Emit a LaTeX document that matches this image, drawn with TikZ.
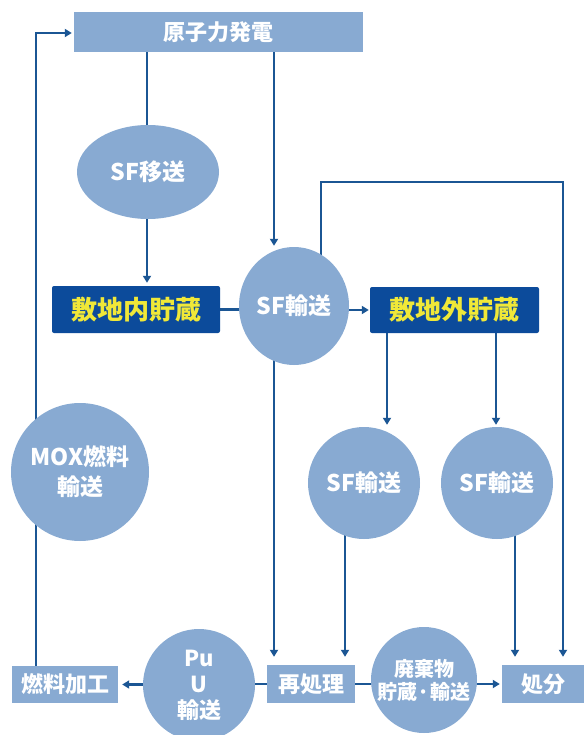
\documentclass[tikz,border=0pt]{standalone}
\usepackage{fontspec}
\setmainfont{Noto Sans CJK JP}
\usetikzlibrary{shapes.geometric,arrows.meta,backgrounds,calc}
\definecolor{lightbox}{HTML}{88AAD2}
\definecolor{darkbox}{HTML}{0C4B9B}
\definecolor{yellowtxt}{HTML}{F0E838}
\definecolor{linecol}{HTML}{1B5694}
\begin{document}
\begin{tikzpicture}[x=1pt,y=-1pt,
  conn/.style={draw=linecol,line width=2.3pt},
  arr/.style={conn,-{Triangle[length=7pt,width=8pt]}},
  lbox/.style={rectangle,fill=lightbox,text=white,inner sep=0pt,font=\bfseries\fontsize{22}{26}\selectfont},
  dbox/.style={rectangle,fill=darkbox,text=yellowtxt,rounded corners=2pt,inner sep=0pt,font=\bfseries\fontsize{26}{30}\selectfont},
  bub/.style={circle,fill=lightbox,text=white,inner sep=0pt,align=center,font=\bfseries\fontsize{23}{26}\selectfont}]
\useasboundingbox (0,0) rectangle (587,735);
% nodes
\node[lbox,minimum width=289pt,minimum height=40pt] (gen) at (218.5,32) {原子力発電};
\node[bub,ellipse,minimum width=142pt,minimum height=94pt] (sfmove) at (148,172) {SF移送};
\node[dbox,minimum width=168pt,minimum height=47pt] (onsite) at (136,309.5) {敷地内貯蔵};
\node[bub,ellipse,minimum width=110pt,minimum height=118pt] (sfc) at (294,306) {SF輸送};
\node[dbox,minimum width=169pt,minimum height=46pt] (offsite) at (454.5,310) {敷地外貯蔵};
\node[bub,minimum size=112pt] (sfl) at (364,483) {SF輸送};
\node[bub,minimum size=112pt] (sfr) at (497,483) {SF輸送};
\node[bub,minimum size=138pt,font=\bfseries\fontsize{23}{30}\selectfont] (mox) at (80,472) {MOX燃料\\輸送};
\node[lbox,minimum width=106pt,minimum height=37pt] (fab) at (65,684.5) {燃料加工};
\node[bub,minimum size=112pt,font=\bfseries\fontsize{22}{26}\selectfont] (puu) at (199,685) {Pu\\U\\輸送};
\node[lbox,minimum width=88pt,minimum height=38pt] (repro) at (311,684) {再処理};
\node[bub,minimum size=106pt,font=\bfseries\fontsize{20}{23}\selectfont] (waste) at (424,680) {廃棄物\\貯蔵·輸送};
\node[lbox,minimum width=82pt,minimum height=38pt] (disp) at (543,684) {処分};
% helper coordinates
\coordinate (xa) at (147,0);
\coordinate (xb) at (274,0);
\coordinate (xc) at (321,0);
\coordinate (xd) at (563,0);
\coordinate (xe) at (387,0);
\coordinate (xf) at (496,0);
\coordinate (xg) at (345,0);
\coordinate (xh) at (515,0);
\coordinate (xl) at (36,0);
\coordinate (yl) at (0,33);
\coordinate (yt) at (0,182);
\begin{pgfonlayer}{background}
\fill[white] (0,0) rectangle (587,735);
\draw[conn] (xa |- gen.south) -- (xa |- sfmove.center);
\draw[arr] (xa |- sfmove.center) -- ($(xa |- onsite.north)+(0,-3)$);
\draw[arr] (xb |- gen.south) -- ($(xb |- sfc.north)+(0,-1)$);
\draw[conn] (onsite.east) -- (onsite.east -| sfc.center);
\draw[arr] (sfc.center |- offsite.west) -- ($(offsite.west)+(-1,0)$);
\draw[arr] (xc |- sfc.center) -- (xc |- yt) -- (xd |- yt) -- ($(xd |- disp.north)+(0,-8)$);
\draw[arr] (xe |- offsite.south) -- ($(xe |- sfl.north)+(0,-2)$);
\draw[arr] (xf |- offsite.south) -- ($(xf |- sfr.north)+(0,-2)$);
\draw[arr] (xb |- sfc.center) -- ($(xb |- repro.north)+(0,-8)$);
\draw[arr] (xg |- sfl.center) -- ($(xg |- repro.north)+(0,-8)$);
\draw[arr] (xh |- sfr.center) -- ($(xh |- disp.north)+(0,-8)$);
\draw[conn] (repro.west -| puu.center) -- (repro.west);
\draw[arr] (puu.center |- fab.east) -- ($(fab.east)+(4,0)$);
\draw[conn] (repro.east) -- (repro.east -| waste.center);
\draw[arr] (waste.center |- disp.west) -- ($(disp.west)+(-2,0)$);
\draw[arr] (xl |- fab.north) -- (xl |- yl) -- ($(gen.west |- yl)+(-2,0)$);
\end{pgfonlayer}
\end{tikzpicture}
\end{document}
